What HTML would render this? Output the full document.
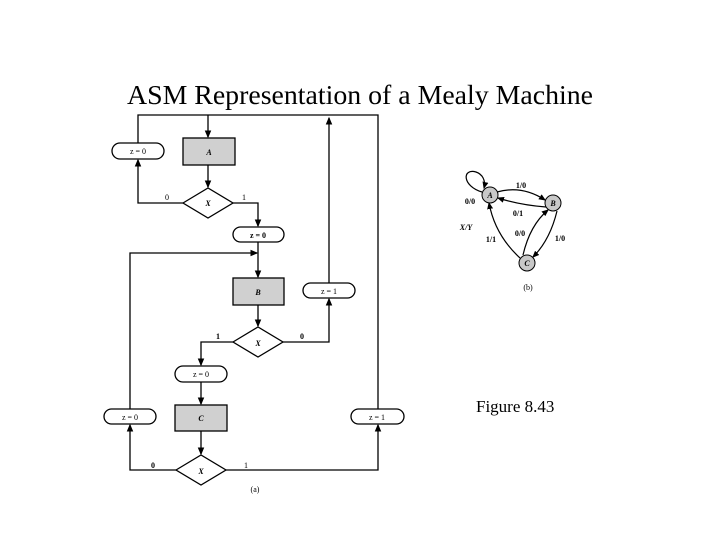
<!DOCTYPE html>
<html><head><style>body{margin:0;background:#fff}</style></head><body>
<svg width="720" height="540" xmlns="http://www.w3.org/2000/svg" font-family="Liberation Serif, serif">
<defs><marker id="ar" markerWidth="6" markerHeight="6" refX="5" refY="3" orient="auto"><path d="M0,0.5L6,3L0,5.5z" fill="#000"/></marker></defs>
<text x="127" y="104" font-size="27" textLength="466" lengthAdjust="spacingAndGlyphs">ASM Representation of a Mealy Machine</text>
<g stroke="#000" stroke-width="1.3" fill="none">
<path d="M138,143V115H378V409"/>
<path d="M208,115V137" marker-end="url(#ar)"/>
<path d="M208,165V187" marker-end="url(#ar)"/>
<path d="M183,203H138V160" marker-end="url(#ar)"/>
<path d="M233,203H258V226" marker-end="url(#ar)"/>
<path d="M258,242V277" marker-end="url(#ar)"/>
<path d="M130,409V253H257" marker-end="url(#ar)"/>
<path d="M329,283V118" marker-end="url(#ar)"/>
<path d="M258,305V326" marker-end="url(#ar)"/>
<path d="M283,342H329V299" marker-end="url(#ar)"/>
<path d="M233,342H201V365" marker-end="url(#ar)"/>
<path d="M201,382V404" marker-end="url(#ar)"/>
<path d="M201,431V454" marker-end="url(#ar)"/>
<path d="M176,470H130V425" marker-end="url(#ar)"/>
<path d="M226,470H378V425" marker-end="url(#ar)"/>
</g>
<g stroke="#000" stroke-width="1.3" fill="#fff">
<rect x="112" y="143" width="52" height="16" rx="8"/>
<rect x="233" y="227" width="51" height="15" rx="7.5"/>
<rect x="303" y="283" width="52" height="15" rx="7.5"/>
<rect x="175" y="366" width="52" height="16" rx="8"/>
<rect x="104" y="409" width="52" height="15" rx="7.5"/>
<rect x="351" y="409" width="53" height="15" rx="7.5"/>
<rect x="183" y="138" width="52" height="27" fill="#d0d0d0"/>
<rect x="233" y="278" width="51" height="27" fill="#d0d0d0"/>
<rect x="175" y="405" width="52" height="26" fill="#d0d0d0"/>
<path d="M183,203L208,188L233,203L208,218z"/>
<path d="M233,342L258,327L283,342L258,357z"/>
<path d="M176,470L201,455L226,470L201,485z"/>
</g>
<g font-size="8" text-anchor="middle">
<text x="138" y="154">z = 0</text><text x="258" y="238" font-weight="bold">z = 0</text>
<text x="329" y="294">z = 1</text><text x="201" y="377">z = 0</text>
<text x="130" y="420">z = 0</text><text x="377" y="420">z = 1</text>
<g font-style="italic" font-weight="bold"><text x="209" y="155">A</text><text x="258" y="295">B</text><text x="201" y="421">C</text>
<text x="208" y="206">X</text><text x="258" y="346">X</text><text x="201" y="474">X</text></g>
<text x="167" y="200">0</text><text x="244" y="200">1</text>
<text x="218" y="339" font-weight="bold">1</text><text x="302" y="339" font-weight="bold">0</text>
<text x="153" y="468" font-weight="bold">0</text><text x="246" y="468">1</text>
<text x="255" y="492">(a)</text>
</g>
<g stroke="#000" stroke-width="1.2" fill="none">
<path d="M482,192C462,186 462,168 476,172C482,174 486,180 484,188" marker-end="url(#ar)"/>
<path d="M497,192Q522,185 545,200" marker-end="url(#ar)"/>
<path d="M546,207Q520,205 498,198" marker-end="url(#ar)"/>
<path d="M557,211Q550,240 533,257" marker-end="url(#ar)"/>
<path d="M523,255Q530,225 548,210" marker-end="url(#ar)"/>
<path d="M520,258Q495,235 489,203" marker-end="url(#ar)"/>
</g>
<g stroke="#000" fill="#c8c8c8"><circle cx="490" cy="195" r="8"/><circle cx="553" cy="203" r="8"/><circle cx="527" cy="263" r="8"/></g>
<g font-size="8" font-weight="bold" text-anchor="middle">
<g font-style="italic"><text x="490" y="198">A</text><text x="553" y="206">B</text><text x="527" y="266">C</text><text x="466" y="230">X/Y</text></g>
<text x="521" y="188">1/0</text><text x="518" y="216">0/1</text><text x="470" y="204">0/0</text>
<text x="520" y="236">0/0</text><text x="491" y="242">1/1</text><text x="560" y="241">1/0</text>
<text x="528" y="290" font-weight="normal">(b)</text>
</g>
<text x="476" y="412" font-size="17">Figure 8.43</text>
</svg>
</body></html>
